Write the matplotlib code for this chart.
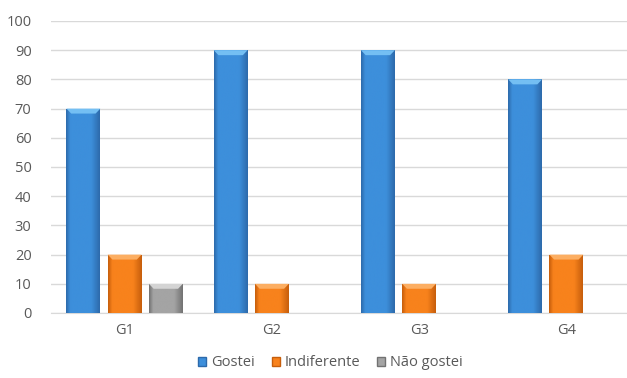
import numpy as np
import matplotlib
matplotlib.use('Agg')
import matplotlib.pyplot as plt
from matplotlib.colors import LinearSegmentedColormap
from matplotlib.patches import Polygon

plt.rcParams['font.family'] = ['Open Sans', 'DejaVu Sans']

# data
groups = ['G1', 'G2', 'G3', 'G4']
gostei = [70, 90, 90, 80]
indiferente = [20, 10, 10, 20]
nao_gostei = [10, 0, 0, 0]
series_names = ['Gostei', 'Indiferente', 'Não gostei']

# (edge, middle, top bevel) colours per series
palettes = [
    ('#2d6aab', '#3d8fdb', '#74bff3'),
    ('#c65e0c', '#f8821c', '#fcae62'),
    ('#727272', '#a4a4a4', '#d4d4d4'),
]

fig = plt.figure(figsize=(6.27, 3.78), dpi=100)
ax = fig.add_axes([51 / 627, 65 / 378, 589 / 627, 292 / 378])

x = np.arange(len(groups))
width = 0.23
offset = 0.28

for k, (vals, pal) in enumerate(zip([gostei, indiferente, nao_gostei], palettes)):
    pos = x + (k - 1) * offset
    bars = ax.bar(pos, vals, width, color=pal[1], label=series_names[k], zorder=2)
    cmap = LinearSegmentedColormap.from_list(
        'b%d' % k, [(0, pal[0]), (0.12, pal[1]), (0.75, pal[1]), (1, pal[0])])
    grad = np.linspace(0, 1, 64).reshape(1, -1)
    for b in bars:
        h = b.get_height()
        if h <= 0:
            continue
        x0 = b.get_x()
        w = b.get_width()
        im = ax.imshow(grad, extent=(x0, x0 + w, 0, h), aspect='auto',
                       cmap=cmap, zorder=3, interpolation='bicubic')
        im.set_clip_path(b)
        # top bevel
        bx = w * 0.14
        by = 1.7
        top = Polygon([(x0, h), (x0 + w, h), (x0 + w - bx, h - by), (x0 + bx, h - by)],
                      closed=True, facecolor=pal[2], edgecolor='none', zorder=4)
        ax.add_patch(top)

ax.set_xlim(-0.5, len(groups) - 0.5)
ax.set_ylim(0, 100)
ax.set_yticks(range(0, 101, 10))
ax.set_xticks(x)
ax.set_xticklabels(groups)
ax.grid(axis='y', color='#d9d9d9', linewidth=1, zorder=0)
ax.set_axisbelow(True)
for s in ['top', 'right', 'left']:
    ax.spines[s].set_visible(False)
ax.spines['bottom'].set_color('#d9d9d9')
ax.tick_params(axis='both', length=0, labelsize=10.5, colors='#595959')
ax.tick_params(axis='y', pad=14)
ax.tick_params(axis='x', pad=7)

handles = [plt.Rectangle((0, 0), 1, 1, facecolor=p[1], edgecolor=p[0]) for p in palettes]
fig.legend(handles, series_names, loc='center', bbox_to_anchor=(0.527, 15 / 378),
           ncol=3, frameon=False, fontsize=10.5, handlelength=0.55, handleheight=0.55,
           handletextpad=0.3, columnspacing=1.2, labelcolor='#595959')

fig.savefig('out.png', dpi=100)
